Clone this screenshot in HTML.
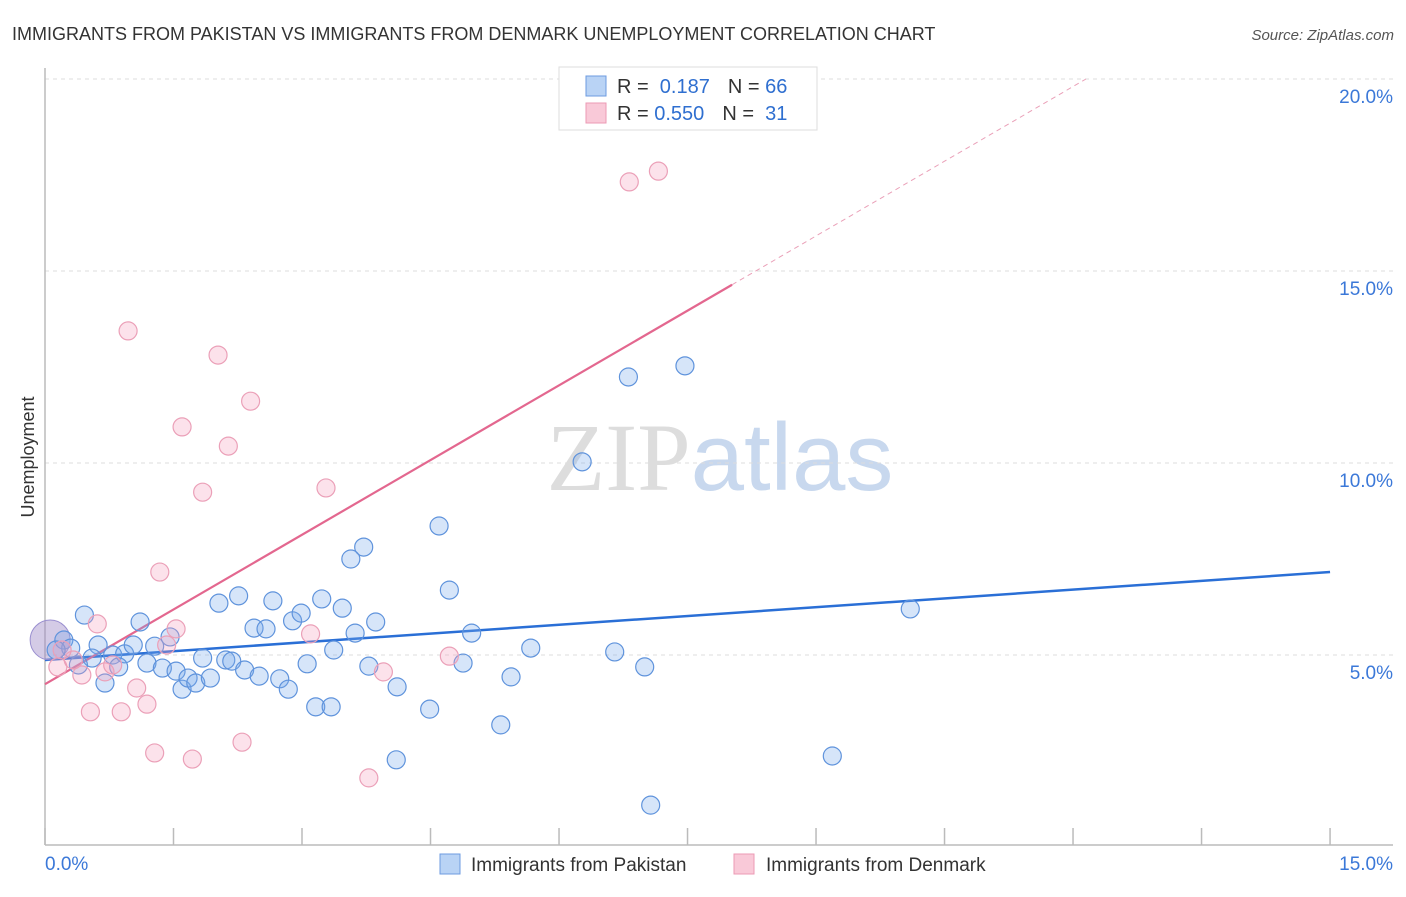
<!DOCTYPE html>
<html><head><meta charset="utf-8"><style>
body{margin:0;background:#fff;font-family:"Liberation Sans",sans-serif}
</style></head><body>
<svg id="chart" width="1406" height="892" xmlns="http://www.w3.org/2000/svg" font-family="Liberation Sans, sans-serif">
<text x="12" y="40" font-size="18" fill="#333">IMMIGRANTS FROM PAKISTAN VS IMMIGRANTS FROM DENMARK UNEMPLOYMENT CORRELATION CHART</text>
<text x="1394" y="40" font-size="15" fill="#555" font-style="italic" text-anchor="end">Source: ZipAtlas.com</text>
<text transform="translate(34,457) rotate(-90)" font-size="18" fill="#333" text-anchor="middle">Unemployment</text>
<text x="720" y="490" font-size="96" text-anchor="middle"><tspan fill="#ddd" font-family="Liberation Serif, serif">ZIP</tspan><tspan fill="#c8d8ee">atlas</tspan></text>
<g id="grid"></g><g id="axes"></g><g id="lines"></g><g id="pts"></g>
<g>
<rect x="559" y="67" width="258" height="63" fill="#fff" stroke="#ddd"/>
<rect x="586" y="76" width="20" height="20" fill="#b9d3f5" stroke="#6d9be0"/>
<rect x="586" y="103" width="20" height="20" fill="#f9c9d8" stroke="#ec9ab4"/>
<text x="617" y="93" font-size="20" fill="#333">R = <tspan fill="#2f6fd0">&#160;0.187</tspan><tspan dx="18">N = </tspan><tspan fill="#2f6fd0">66</tspan></text>
<text x="617" y="120" font-size="20" fill="#333">R = <tspan fill="#2f6fd0">0.550</tspan><tspan dx="18">N = </tspan><tspan fill="#2f6fd0">&#160;31</tspan></text>
</g>
<g>
<rect x="440" y="854" width="20" height="20" fill="#b9d3f5" stroke="#6d9be0"/>
<text x="471" y="871" font-size="19" fill="#333">Immigrants from Pakistan</text>
<rect x="734" y="854" width="20" height="20" fill="#f9c9d8" stroke="#ec9ab4"/>
<text x="766" y="871" font-size="19" fill="#333">Immigrants from Denmark</text>
</g>
</svg>
<script>
const yTicks=[5,10,15,20];
const yTickLabels=["5.0%","10.0%","15.0%","20.0%"];
const xTickLabels=["0.0%","15.0%"];
const pakX=[0.46,1.11,0.62,0.22,0.30,0.55,0.79,0.93,1.03,0.86,0.70,1.19,1.28,1.37,1.46,1.53,1.60,1.67,1.76,1.84,1.93,2.03,2.11,2.18,2.26,2.33,2.44,2.50,2.58,2.66,2.74,2.84,2.89,2.99,3.06,3.16,3.23,3.34,3.37,3.47,3.57,3.62,3.72,3.78,3.86,4.11,4.10,4.49,4.60,4.72,4.88,4.98,5.32,5.44,5.67,6.27,6.65,6.81,7.00,7.07,7.47,9.19,10.10,0.39,0.13];
const pakY=[6.04,5.86,5.26,5.39,5.18,4.92,5.00,5.03,5.26,4.69,4.27,4.79,5.23,4.66,5.47,4.58,4.11,4.40,4.27,4.92,4.40,6.35,4.87,4.84,6.54,4.61,5.70,4.45,5.68,6.41,4.38,4.11,5.89,6.09,4.77,3.65,6.46,3.65,5.13,6.22,7.50,5.57,7.81,4.71,5.86,4.17,2.27,3.59,8.36,6.69,4.79,5.57,3.18,4.43,5.18,10.03,5.08,12.24,4.69,1.09,12.53,2.37,6.20,4.74,5.13];
const denX=[0.15,0.33,0.43,0.53,0.61,0.70,0.79,0.89,0.97,1.07,1.19,1.28,1.34,1.42,1.53,1.60,1.72,1.84,2.02,2.14,2.30,2.40,3.10,3.28,3.78,3.95,4.72,6.82,7.16,0.2];
const denY=[4.69,4.87,4.48,3.52,5.81,4.56,4.74,3.52,13.44,4.14,3.72,2.45,7.16,5.26,5.68,10.94,2.29,9.24,12.81,10.44,2.73,11.61,5.55,9.35,1.80,4.56,4.97,17.32,17.60,5.13];
const pakTrend=[4.87,7.16];
const denTrend=[4.24,1.297];
const bigPoint=[0.06,5.39];
const X=v=>45+v*85.67, Y=v=>847-v*38.4;
const NS="http://www.w3.org/2000/svg";
function mk(t,a,p){const e=document.createElementNS(NS,t);for(const k in a)e.setAttribute(k,a[k]);p.appendChild(e);return e;}
const grid=document.getElementById('grid'),axes=document.getElementById('axes'),lines=document.getElementById('lines'),pts=document.getElementById('pts');
yTicks.forEach((t,i)=>{
 const l=mk('line',{x1:45,x2:1393,y1:Y(t),y2:Y(t),stroke:'#ddd','stroke-dasharray':'4,4'},grid);
 
 
 const tx=mk('text',{x:1393,y:Y(t)+24,'font-size':19,fill:'#3b78d8','text-anchor':'end'},axes);
 tx.textContent=yTickLabels[i];
 
 
});
const al=mk('line',{x1:45,x2:45,y1:68,y2:845,stroke:'#bbb','stroke-width':1.5},axes);


const bl=mk('line',{x1:45,x2:1393,y1:845,y2:845,stroke:'#bbb','stroke-width':1.5},axes);


for(let i=0;i<=10;i++){
 const t=mk('line',{x1:X(i*1.5),x2:X(i*1.5),y1:828,y2:845,stroke:'#bbb','stroke-width':1.5},axes);
 
 
}
[[0,'start',45],[1,'end',1393]].forEach(([i,a,x])=>{
 const tx=mk('text',{x:x,y:870,'font-size':19,fill:'#3b78d8','text-anchor':a},axes);
 tx.textContent=xTickLabels[i];
 
 
});
const bline=mk('line',{x1:X(0),y1:Y(pakTrend[0]),x2:X(15),y2:Y(pakTrend[1]),stroke:'#2a6fd6','stroke-width':2.5},lines);


const xs=8.02, xe=(20-denTrend[0])/denTrend[1];
const pl=mk('line',{x1:X(0),y1:Y(denTrend[0]),x2:X(xs),y2:Y(denTrend[0]+denTrend[1]*xs),stroke:'#e3678f','stroke-width':2.2},lines);


const pd=mk('line',{x1:X(xs),y1:Y(denTrend[0]+denTrend[1]*xs),x2:X(xe),y2:Y(20),stroke:'#eaa0b8','stroke-width':1,'stroke-dasharray':'5,4'},lines);


const bp=mk('circle',{cx:X(bigPoint[0]),cy:Y(bigPoint[1]),r:20,fill:'rgba(160,140,200,0.45)',stroke:'#9a8fd0'},pts);


pakX.forEach((x,i)=>{
 const c=mk('circle',{cx:X(x),cy:Y(pakY[i]),r:9,fill:'rgba(120,170,235,0.3)',stroke:'#5f93dc','stroke-width':1.2},pts);
 
 
});
denX.forEach((x,i)=>{
 const c=mk('circle',{cx:X(x),cy:Y(denY[i]),r:9,fill:'rgba(245,160,190,0.3)',stroke:'#eba0b8','stroke-width':1.2},pts);
 
 
});
</script>
</body></html>
